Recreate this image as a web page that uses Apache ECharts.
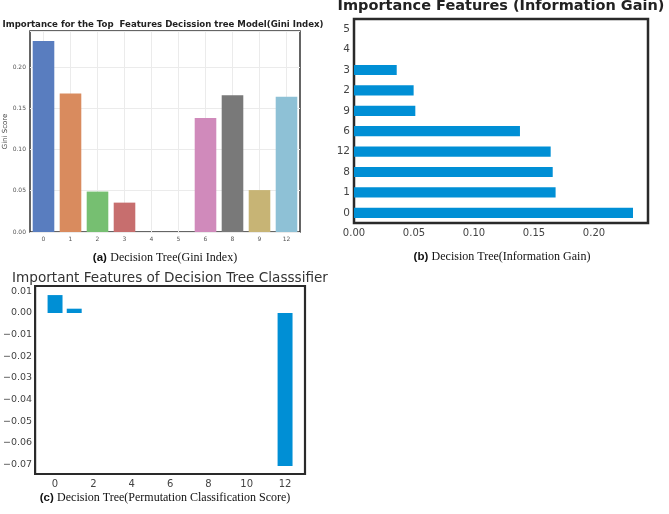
<!DOCTYPE html>
<html>
<head>
<meta charset="utf-8">
<script src="https://cdn.jsdelivr.net/npm/echarts@6/dist/echarts.min.js"></script>
<style>html,body{margin:0;padding:0;background:#fff}#c{width:669px;height:514px}</style>
</head>
<body>
<div id="c"></div>
<script>
// Panel (a): Gini index importance
const giniCategories = ['0', '1', '2', '3', '4', '5', '6', '8', '9', '12'];
const giniValues = [0.2315, 0.168, 0.0490, 0.0356, 0, 0, 0.1383, 0.1656, 0.0508, 0.1639];
const giniColors = ['#597dbf', '#d98b5e', '#76bf71', '#c76e6e', '#9a81b5', '#8e6f58', '#d08abb', '#797979', '#c7b475', '#8ec1d6'];
const giniTicks = [0, 0.05, 0.10, 0.15, 0.20];

// Panel (b): information gain importance (bottom to top)
const igCategories = ['0', '1', '8', '12', '6', '9', '2', '3', '4', '5'];
const igValues = [0.2325, 0.168, 0.1656, 0.1639, 0.1383, 0.0511, 0.0497, 0.0356, 0, 0];
const igTicks = [0, 0.05, 0.10, 0.15, 0.20];

// Panel (c): permutation importance per feature index
const permFeatures = [0, 1, 2, 3, 4, 5, 6, 7, 8, 9, 10, 11, 12];
const permValues = [0.0083, 0.0020, 0, 0, 0, 0, 0, 0, 0, 0, 0, 0, -0.0708];
const permYTicks = [-0.07, -0.06, -0.05, -0.04, -0.03, -0.02, -0.01, 0.00, 0.01];
const permXTicks = [0, 2, 4, 6, 8, 10, 12];

const chart = echarts.init(document.getElementById('c'), null, {renderer: 'canvas'});
const sans = 'DejaVu Sans';
const fmt2 = v => Number(v).toFixed(2).replace('-', '\u2212');

const option = {
  animation: false,
  backgroundColor: '#ffffff',
  grid: [
    {left: 30, top: 31, right: 369, bottom: 282, show: true, borderColor: '#333', borderWidth: 1.5, backgroundColor: 'transparent'},
    {left: 354, top: 19, right: 21, bottom: 291, show: true, borderColor: '#2a2a2a', borderWidth: 2.5, backgroundColor: 'transparent'},
    {left: 32, top: 286, right: 364, bottom: 40, show: true, borderColor: '#2a2a2a', borderWidth: 2.2, backgroundColor: 'transparent'}
  ],
  xAxis: [
    {gridIndex: 0, type: 'category', data: giniCategories,
     axisLine: {show: false}, axisTick: {show: false},
     axisLabel: {fontSize: 6, color: '#555', fontFamily: sans, margin: 4},
     splitLine: {show: true, alignWithLabel: true, lineStyle: {color: '#ebebeb', width: 1}}},
    {gridIndex: 1, type: 'value', min: 0, max: 0.245,
     axisLine: {show: false}, axisTick: {show: false}, splitLine: {show: false},
     axisLabel: {customValues: igTicks, formatter: fmt2, fontSize: 10, color: '#444', fontFamily: sans, margin: 5}},
    {gridIndex: 2, type: 'value', min: -1.04, max: 13.04,
     axisLine: {show: false}, axisTick: {show: false}, splitLine: {show: false},
     axisLabel: {customValues: permXTicks, fontSize: 10, color: '#444', fontFamily: sans, margin: 5}}
  ],
  yAxis: [
    {gridIndex: 0, type: 'value', min: 0, max: 0.2436, interval: 0.05,
     name: 'Gini Score', nameLocation: 'middle', nameGap: 20, nameRotate: 90,
     nameTextStyle: {fontSize: 7, color: '#444', fontFamily: sans},
     axisLine: {show: false}, axisTick: {show: false},
     axisLabel: {customValues: giniTicks, formatter: fmt2, fontSize: 6, color: '#555', fontFamily: sans, margin: 4},
     splitLine: {show: true, lineStyle: {color: '#ebebeb', width: 1}}},
    {gridIndex: 1, type: 'category', data: igCategories,
     axisLine: {show: false}, axisTick: {show: false}, splitLine: {show: false},
     axisLabel: {fontSize: 10.5, color: '#444', fontFamily: sans, margin: 4}},
    {gridIndex: 2, type: 'value', min: -0.0745, max: 0.0125,
     axisLine: {show: false}, axisTick: {show: false}, splitLine: {show: false},
     axisLabel: {customValues: permYTicks, formatter: fmt2, fontSize: 9.5, color: '#444', fontFamily: sans, margin: 3}}
  ],
  series: [
    {type: 'bar', xAxisIndex: 0, yAxisIndex: 0, barCategoryGap: '20%',
     data: giniValues.map((v, i) => ({value: v, itemStyle: {color: giniColors[i]}}))},
    {type: 'bar', xAxisIndex: 1, yAxisIndex: 1, barWidth: '50%',
     itemStyle: {color: '#008fd5'}, data: igValues},
    {type: 'bar', xAxisIndex: 2, yAxisIndex: 2, barWidth: '78%',
     itemStyle: {color: '#008fd5'}, data: permFeatures.map((x, i) => [x, permValues[i]])}
  ],
  graphic: [
    {type: 'text', silent: true, style: {text: 'Importance for the Top  Features Decission tree Model(Gini Index)',
      x: 163, y: 25, align: 'center', verticalAlign: 'middle', fontFamily: sans, fontWeight: 'bold', fontSize: 8.6, fill: '#222'}},
    {type: 'text', silent: true, style: {text: 'Importance Features (Information Gain)',
      x: 501, y: 6, align: 'center', verticalAlign: 'middle', fontFamily: sans, fontWeight: 'bold', fontSize: 14.5, fill: '#222'}},
    {type: 'text', silent: true, style: {text: 'Important Features of Decision Tree Classsifier',
      x: 170, y: 278, align: 'center', verticalAlign: 'middle', fontFamily: sans, fontSize: 13.6, fill: '#333'}},
    {type: 'text', silent: true, style: {text: '{b|(a)} {s|Decision Tree(Gini Index)}',
      x: 165, y: 258, align: 'center', verticalAlign: 'middle',
      rich: {b: {fontFamily: 'Liberation Sans', fontWeight: 'bold', fontSize: 11.5, fill: '#111'},
             s: {fontFamily: 'Liberation Serif', fontSize: 12, fill: '#111'}}}},
    {type: 'text', silent: true, style: {text: '{b|(b)} {s|Decision Tree(Information Gain)}',
      x: 502, y: 257, align: 'center', verticalAlign: 'middle',
      rich: {b: {fontFamily: 'Liberation Sans', fontWeight: 'bold', fontSize: 11.5, fill: '#111'},
             s: {fontFamily: 'Liberation Serif', fontSize: 12, fill: '#111'}}}},
    {type: 'text', silent: true, style: {text: '{b|(c)} {s|Decision Tree(Permutation Classification Score)}',
      x: 165, y: 498, align: 'center', verticalAlign: 'middle',
      rich: {b: {fontFamily: 'Liberation Sans', fontWeight: 'bold', fontSize: 11.5, fill: '#111'},
             s: {fontFamily: 'Liberation Serif', fontSize: 12, fill: '#111'}}}}
  ]
};
chart.setOption(option);
</script>
</body>
</html>
